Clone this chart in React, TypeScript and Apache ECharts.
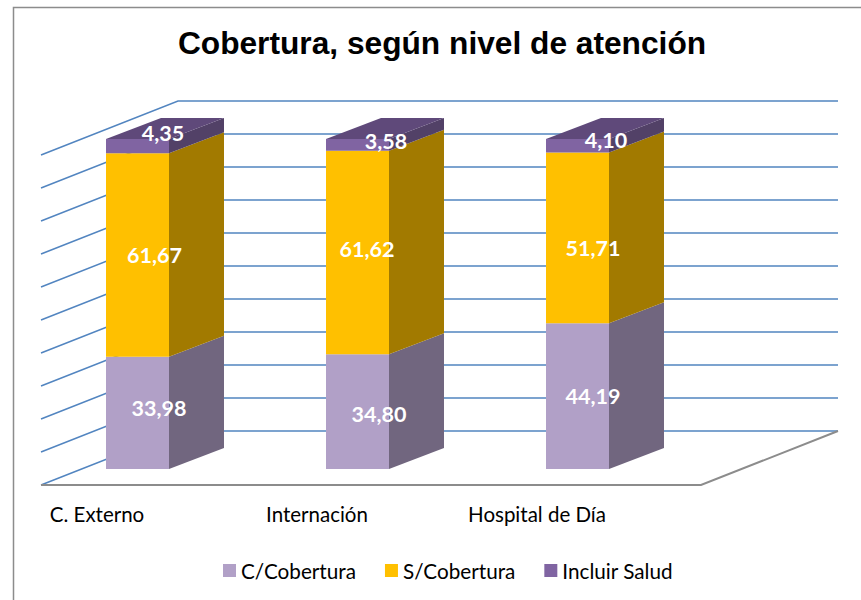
import React, { useEffect, useRef } from "react";
import * as echarts from "echarts";

const categories = ["C. Externo", "Internación", "Hospital de Día"];
const seriesNames = ["C/Cobertura", "S/Cobertura", "Incluir Salud"];
const cCobertura = [33.98, 34.8, 44.19];
const sCobertura = [61.67, 61.62, 51.71];
const incluirSalud = [4.35, 3.58, 4.1];
const ticks = [0, 10, 20, 30, 40, 50, 60, 70, 80, 90, 100];
const titleText = "Cobertura, según nivel de atención";

// hand-placed label nudges in the reference [dx, dy] relative to the segment centre
const labelNudges = [
  [[21.5, -5], [17, 0], [25.5, -13]],
  [[21.5, 2], [9.5, -3], [28.5, -4]],
  [[15.5, 0], [15.5, 10], [28.5, -5.5]],
];

const faces = [
  { front: "#B1A0C7", side: "#71667F", top: "#8E80A0" },
  { front: "#FFC000", side: "#A27A00", top: "#CC9A00" },
  { front: "#8064A2", side: "#524167", top: "#5F497A" },
];

const HALF_BAR = 31.5;
const DX = 55;
const DY = -21;
const WALL_DY = -38; // back wall base relative to the bar base
const WALL_FRONT_DY = 54;
const WALL_LEFT = 41;
const WALL_BACK = 178;
const WALL_RIGHT = 838;
const LINE = "#5285C0";
const FLOOR = "#8C8C8C";

const fmt = (v: number) => v.toFixed(2).replace(".", ",");

function segmentSeries(name: string, index: number, values: number[], bases: number[]) {
  const face = faces[index];
  return {
    type: "custom",
    name,
    coordinateSystem: "cartesian2d",
    xAxisIndex: 0,
    yAxisIndex: 0,
    z: 5,
    itemStyle: { color: face.front },
    data: values.map((v, i) => [i, bases[i], bases[i] + v]),
    renderItem: (_p: any, api: any) => {
      const cat = api.value(0);
      const lo = api.value(1);
      const hi = api.value(2);
      const [cx, y0] = api.coord([cat, lo]);
      const [, y1] = api.coord([cat, hi]);
      const l = cx - HALF_BAR;
      const r = cx + HALF_BAR;
      const nudge = labelNudges[cat][index];
      const children: any[] = [
        {
          type: "polygon",
          shape: { points: [[l, y0], [r, y0], [r, y1], [l, y1]] },
          style: { fill: face.front },
        },
        {
          type: "polygon",
          shape: { points: [[r, y0], [r + DX, y0 + DY], [r + DX, y1 + DY], [r, y1]] },
          style: { fill: face.side },
        },
      ];
      if (index === 2) {
        children.push({
          type: "polygon",
          shape: { points: [[l, y1], [r, y1], [r + DX, y1 + DY], [l + DX, y1 + DY]] },
          style: { fill: face.top },
        });
      }
      children.push({
        type: "text",
        z2: 50,
        x: cx + nudge[0],
        y: (y0 + y1) / 2 + nudge[1],
        style: {
          text: fmt(hi - lo),
          fill: "#FFFFFF",
          font: "bold 21.5px Lato",
          align: "center",
          verticalAlign: "middle",
        },
      });
      return { type: "group", children };
    },
  };
}

function App() {
  const ref = useRef<HTMLDivElement>(null);
  useEffect(() => {
    const chart = echarts.init(ref.current!, null, { renderer: "svg" });
    const sBase = cCobertura;
    const iBase = cCobertura.map((v, i) => v + sCobertura[i]);
    const option: any = {
      animation: false,
      backgroundColor: "#FFFFFF",
      title: {
        text: titleText,
        left: 437,
        top: 22,
        textAlign: "center",
        textStyle: { fontFamily: "Liberation Sans", fontWeight: "bold", fontSize: 31.7, color: "#000000" },
      },
      legend: {
        left: 218,
        top: 555,
        itemWidth: 13,
        itemHeight: 13,
        itemGap: 29,
        icon: "rect",
        data: seriesNames,
        textStyle: { fontFamily: "Lato", fontSize: 20.7, color: "#000000", padding: [0, 0, 0, 0] },
      },
      grid: [
        { left: 27.5, top: 139, width: 660, height: 330, outerBoundsMode: "none" },
        { left: -13, top: 400, width: 660, height: 100, outerBoundsMode: "none" },
      ],
      xAxis: [
        { type: "category", gridIndex: 0, data: categories, show: false },
        {
          type: "category",
          gridIndex: 1,
          data: categories,
          axisLine: { show: false },
          axisTick: { show: false },
          axisLabel: { fontFamily: "Lato", fontSize: 20.5, color: "#000000", margin: 3 },
        },
      ],
      yAxis: [
        { type: "value", gridIndex: 0, min: 0, max: 100, interval: 10, show: false },
        { type: "value", gridIndex: 1, min: 0, max: 100, show: false },
      ],
      graphic: [
        {
          type: "polyline",
          shape: { points: [[13.5, 600], [13.5, 7.5], [861, 7.5]] },
          style: { stroke: "#8C8C8C", lineWidth: 1.5, fill: "none" },
          silent: true,
        },
      ],
      series: [
        {
          type: "custom",
          name: "wall",
          coordinateSystem: "cartesian2d",
          xAxisIndex: 0,
          yAxisIndex: 0,
          z: 1,
          data: ticks.map((t) => [0, t]),
          renderItem: (_p: any, api: any) => {
            const y = api.coord([0, api.value(1)])[1] + WALL_DY;
            return {
              type: "polyline",
              shape: { points: [[WALL_LEFT, y + WALL_FRONT_DY], [WALL_BACK, y], [WALL_RIGHT, y]] },
              style: { stroke: LINE, lineWidth: 1.5, fill: "none" },
            };
          },
        },
        {
          type: "custom",
          name: "floor",
          coordinateSystem: "cartesian2d",
          xAxisIndex: 0,
          yAxisIndex: 0,
          z: 2,
          data: [[0, 0]],
          renderItem: (_p: any, api: any) => {
            const y = api.coord([0, 0])[1] + WALL_DY;
            return {
              type: "polyline",
              shape: { points: [[WALL_LEFT, y + WALL_FRONT_DY], [WALL_RIGHT - 137, y + WALL_FRONT_DY], [WALL_RIGHT, y]] },
              style: { stroke: FLOOR, lineWidth: 2, fill: "none" },
            };
          },
        },
        segmentSeries(seriesNames[0], 0, cCobertura, cCobertura.map(() => 0)),
        segmentSeries(seriesNames[1], 1, sCobertura, sBase),
        segmentSeries(seriesNames[2], 2, incluirSalud, iBase),
      ],
    };
    chart.setOption(option);
    return () => chart.dispose();
  }, []);
  return <div ref={ref} style={{ position: "fixed", left: 0, top: 0, width: 861, height: 600 }} />;
}

export default App;
